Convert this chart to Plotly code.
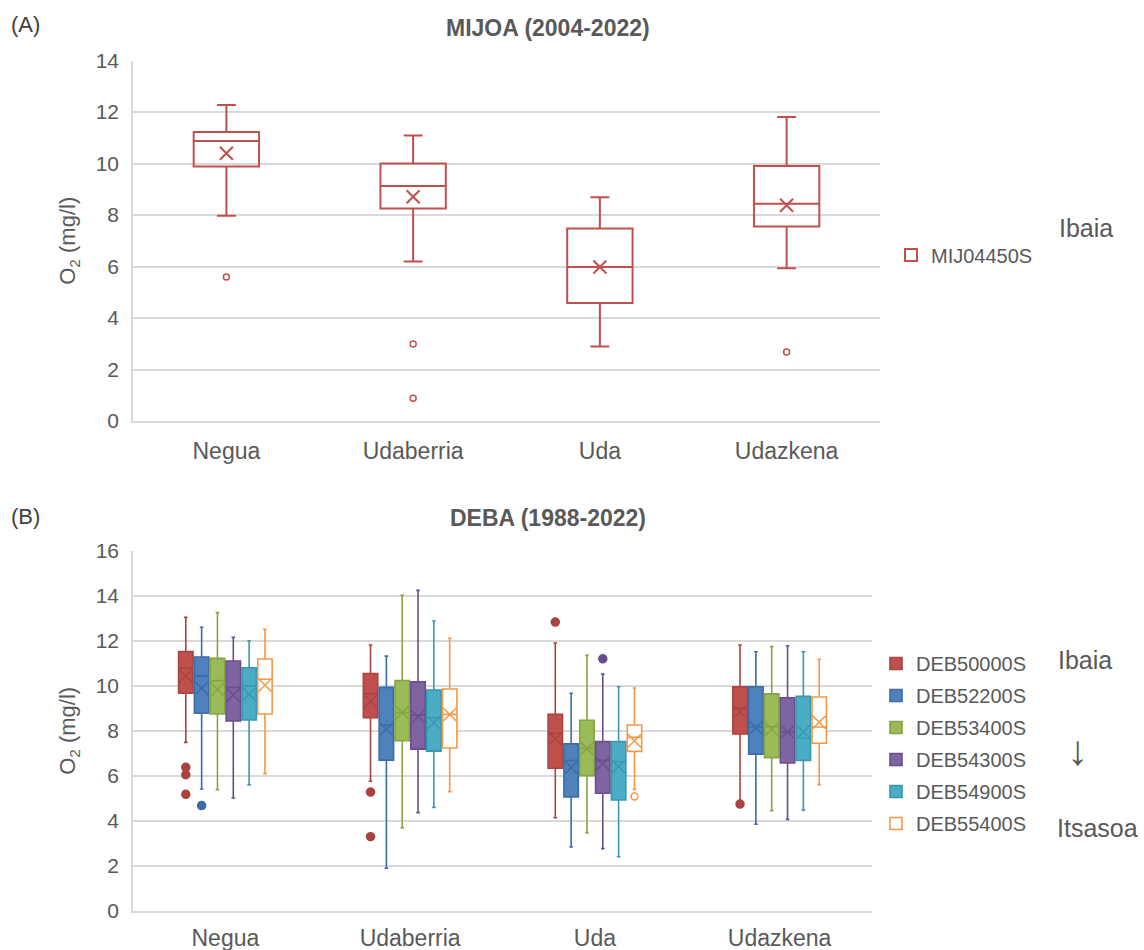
import plotly.graph_objects as go

W, H = 1144, 950

SEASONS = ["Negua", "Udaberria", "Uda", "Udazkena"]

# ---- MIJOA (2004-2022), station MIJ04450S ----
MIJ_STATION = "MIJ04450S"
mij_upper = [12.27, 11.09, 8.69, 11.81]
mij_q3 = [11.22, 10.00, 7.48, 9.90]
mij_median = [10.87, 9.13, 5.98, 8.44]
mij_mean = [10.40, 8.71, 5.98, 8.38]
mij_q1 = [9.88, 8.25, 4.58, 7.55]
mij_lower = [7.97, 6.19, 2.89, 5.93]
mij_out_season = ["Negua", "Udaberria", "Udaberria", "Udazkena"]
mij_out_value = [5.59, 2.99, 0.88, 2.68]

# ---- DEBA (1988-2022), six stations from river to sea ----
DEB_STATIONS = ["DEB50000S", "DEB52200S", "DEB53400S", "DEB54300S", "DEB54900S", "DEB55400S"]
deb_upper = [
    [13.04, 11.81, 11.90, 11.81],
    [12.60, 11.32, 9.67, 11.51],
    [13.25, 14.02, 11.35, 11.74],
    [12.15, 14.24, 10.52, 11.78],
    [12.00, 12.88, 9.96, 11.51],
    [12.51, 12.11, 9.90, 11.18],
]
deb_q3 = [
    [11.52, 10.55, 8.73, 9.96],
    [11.28, 9.93, 7.42, 9.96],
    [11.22, 10.23, 8.47, 9.64],
    [11.10, 10.18, 7.52, 9.47],
    [10.80, 9.81, 7.52, 9.53],
    [11.19, 9.86, 8.26, 9.50],
]
deb_median = [
    [10.79, 9.64, 7.89, 9.00],
    [10.44, 8.26, 6.68, 8.18],
    [10.23, 8.81, 7.22, 8.18],
    [9.93, 8.70, 6.69, 7.96],
    [9.99, 8.58, 6.63, 7.67],
    [10.29, 8.73, 7.71, 8.17],
]
deb_mean = [
    [10.45, 9.31, 7.65, 8.84],
    [9.89, 8.07, 6.37, 8.14],
    [9.84, 8.81, 7.22, 8.07],
    [9.59, 8.63, 6.54, 7.96],
    [9.62, 8.36, 6.41, 7.96],
    [10.04, 8.73, 7.56, 8.38],
]
deb_q1 = [
    [9.67, 8.58, 6.34, 7.86],
    [8.78, 6.70, 5.06, 6.96],
    [8.75, 7.56, 6.01, 6.81],
    [8.44, 7.19, 5.23, 6.57],
    [8.48, 7.10, 4.93, 6.69],
    [8.75, 7.24, 7.09, 7.45],
]
deb_lower = [
    [7.49, 5.76, 4.14, 4.78],
    [5.42, 1.90, 2.84, 3.85],
    [5.39, 3.70, 3.48, 4.45],
    [5.02, 4.37, 2.77, 4.07],
    [5.60, 4.60, 2.41, 4.48],
    [6.10, 5.30, 5.40, 5.61],
]
# outliers: station index, season index, value
deb_out_station = [0, 0, 0, 0, 0, 0, 0, 1, 3, 5]
deb_out_season = [0, 0, 0, 1, 1, 2, 3, 0, 2, 2]
deb_out_value = [6.38, 6.05, 5.18, 5.28, 3.30, 12.83, 4.75, 4.68, 11.20, 5.08]

# ---- styling ----
TEXT = "#595959"
GRID = "#D9D9D9"
FONT = "Liberation Sans, Arial, sans-serif"
MIJ_COLOR = "#C0504D"
DEB_FILL = ["#C0504D", "#4F81BD", "#9BBB59", "#8064A2", "#4BACC6", "#FFFFFF"]
DEB_LINE = ["#A9433F", "#3C6BA5", "#86A445", "#6A4E8C", "#3A97B0", "#F79646"]

SLOT = 0.0857        # horizontal space for each station inside a season group
BOX_W = 0.078

fig = go.Figure()

# top panel
fig.add_trace(go.Box(
    x=SEASONS, q1=mij_q1, median=mij_median, q3=mij_q3,
    lowerfence=mij_lower, upperfence=mij_upper,
    name=MIJ_STATION, boxpoints=False,
    fillcolor="rgba(255,255,255,0)", line=dict(color=MIJ_COLOR, width=2),
    whiskerwidth=0.29, xaxis="x", yaxis="y", legend="legend",
    hoverinfo="skip",
))
fig.add_trace(go.Scatter(
    x=SEASONS, y=mij_mean, mode="markers", showlegend=False,
    marker=dict(symbol="x-thin", size=13, color=MIJ_COLOR, line=dict(color=MIJ_COLOR, width=2)),
    xaxis="x", yaxis="y", hoverinfo="skip",
))
fig.add_trace(go.Scatter(
    x=mij_out_season, y=mij_out_value, mode="markers", showlegend=False,
    marker=dict(symbol="circle-open", size=6, color=MIJ_COLOR, line=dict(color=MIJ_COLOR, width=1.5)),
    xaxis="x", yaxis="y", hoverinfo="skip",
))

# bottom panel
for k, st in enumerate(DEB_STATIONS):
    pos = [i + (k - 2.5) * SLOT for i in range(len(SEASONS))]
    fig.add_trace(go.Box(
        x=pos, q1=deb_q1[k], median=deb_median[k], q3=deb_q3[k],
        lowerfence=deb_lower[k], upperfence=deb_upper[k],
        width=BOX_W, name=st, boxpoints=False,
        fillcolor=DEB_FILL[k], line=dict(color=DEB_LINE[k], width=1.6),
        whiskerwidth=0.25, xaxis="x2", yaxis="y2",
        legend="legend2", legendgroup=st, hoverinfo="skip",
    ))
    fig.add_trace(go.Scatter(
        x=pos, y=deb_mean[k], mode="markers", showlegend=False, legendgroup=st,
        marker=dict(symbol="x-thin", size=13, color=DEB_LINE[k], line=dict(color=DEB_LINE[k], width=1.5)),
        xaxis="x2", yaxis="y2", hoverinfo="skip",
    ))
    ox = [deb_out_season[j] + (k - 2.5) * SLOT for j in range(len(deb_out_value)) if deb_out_station[j] == k]
    oy = [deb_out_value[j] for j in range(len(deb_out_value)) if deb_out_station[j] == k]
    if ox:
        hollow = DEB_FILL[k] == "#FFFFFF"
        fig.add_trace(go.Scatter(
            x=ox, y=oy, mode="markers", showlegend=False, legendgroup=st,
            marker=dict(symbol="circle-open" if hollow else "circle", size=7 if hollow else 8,
                        color=DEB_LINE[k], line=dict(color=DEB_LINE[k], width=1.5)),
            xaxis="x2", yaxis="y2", hoverinfo="skip",
        ))


def px_x(v):
    return v / W


def px_y(v):
    return 1 - v / H


axis_common = dict(
    showgrid=True, gridcolor=GRID, gridwidth=1.5,
    showline=True, linecolor=GRID, linewidth=1.5,
    ticks="", tickfont=dict(family=FONT, size=21, color=TEXT),
    zeroline=False, fixedrange=True, automargin=False,
)
xaxis_common = dict(
    showgrid=False, showline=True, linecolor=GRID, linewidth=1.5,
    ticks="", zeroline=False, fixedrange=True, automargin=False,
    tickfont=dict(family=FONT, size=23, color=TEXT),
)

fig.update_layout(
    width=W, height=H,
    margin=dict(l=0, r=0, t=0, b=0),
    paper_bgcolor="white", plot_bgcolor="white",
    font=dict(family=FONT, color=TEXT),
    boxgap=0.5,
    xaxis=dict(domain=[px_x(133), px_x(880)], anchor="y", ticklabelstandoff=9, **xaxis_common),
    yaxis=dict(domain=[px_y(421), px_y(60.5)], anchor="x", range=[0, 14], dtick=2,
               ticklabelstandoff=8,
               title=dict(text="O<sub>2</sub> (mg/l)", font=dict(family=FONT, size=22, color=TEXT), standoff=14),
               **axis_common),
    xaxis2=dict(domain=[px_x(133), px_x(872)], anchor="y2", range=[-0.5, 3.5],
                tickvals=list(range(len(SEASONS))), ticktext=SEASONS,
                ticklabelstandoff=6, **xaxis_common),
    yaxis2=dict(domain=[px_y(911), px_y(550.7)], anchor="x2", range=[0, 16], dtick=2,
                ticklabelstandoff=8,
                title=dict(text="O<sub>2</sub> (mg/l)", font=dict(family=FONT, size=22, color=TEXT), standoff=14),
                **axis_common),
    legend=dict(x=px_x(891), y=px_y(255), xanchor="left", yanchor="middle",
                font=dict(family=FONT, size=20, color=TEXT), bgcolor="rgba(0,0,0,0)"),
    legend2=dict(x=px_x(876), y=px_y(644), xanchor="left", yanchor="top",
                 font=dict(family=FONT, size=20, color=TEXT), bgcolor="rgba(0,0,0,0)",
                 tracegroupgap=3),
    showlegend=True,
)

ann = [
    dict(text="(A)", x=px_x(9), y=px_y(24), xanchor="left", font_size=22, font_color="#404040"),
    dict(text="(B)", x=px_x(9), y=px_y(516), xanchor="left", font_size=22, font_color="#404040"),
    dict(text="<b>MIJOA (2004-2022)</b>", x=px_x(548), y=px_y(28), font_size=23),
    dict(text="<b>DEBA (1988-2022)</b>", x=px_x(548), y=px_y(518), font_size=23),
    dict(text="Ibaia", x=px_x(1086), y=px_y(228), font_size=25),
    dict(text="Ibaia", x=px_x(1085), y=px_y(660), font_size=25),
    dict(text="↓", x=px_x(1077), y=px_y(750), font_size=42),
    dict(text="Itsasoa", x=px_x(1097), y=px_y(828), font_size=25),
]
for a in ann:
    fig.add_annotation(xref="paper", yref="paper", showarrow=False,
                       xanchor=a.get("xanchor", "center"), yanchor="middle",
                       x=a["x"], y=a["y"], text=a["text"],
                       font=dict(family=FONT, size=a["font_size"], color=a.get("font_color", TEXT)))

fig.write_html("out.html")
